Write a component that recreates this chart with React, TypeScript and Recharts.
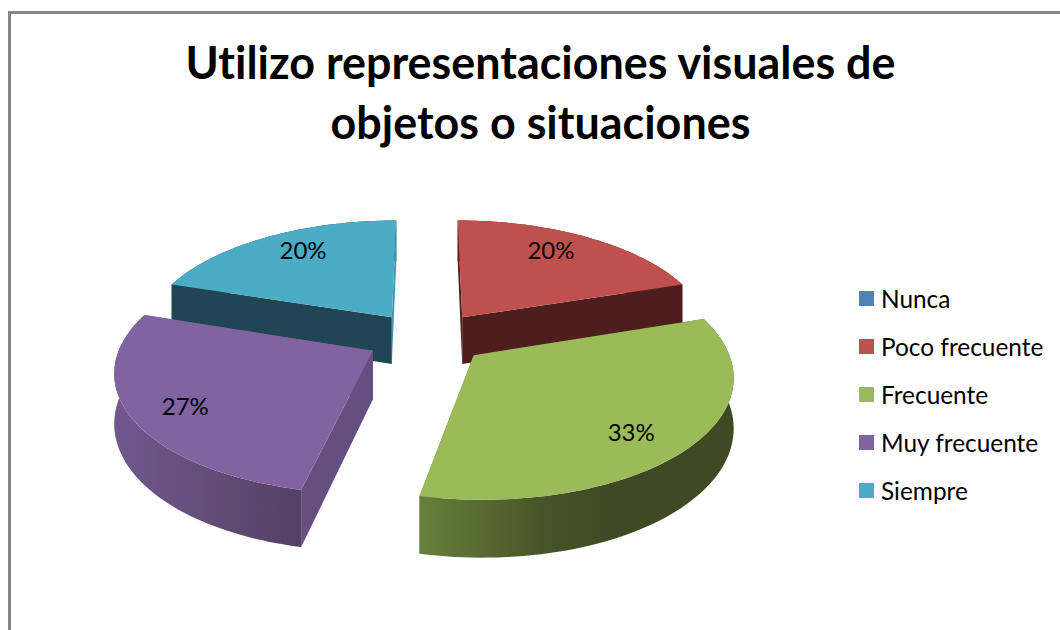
import React from "react";
import { PieChart, Pie, Legend } from "recharts";

const titleLines = ["Utilizo representaciones visuales de", "objetos o situaciones"];
const categories = ["Nunca", "Poco frecuente", "Frecuente", "Muy frecuente", "Siempre"];
const counts = [0, 3, 5, 4, 3];
const colors = ["#4F81BD", "#C0504D", "#9BBB59", "#8064A2", "#4BACC6"];
const startWalls = ["#000", "#4E1E1E", "#3F4A24", "#664F80", "#1F4652"];
const endWalls = ["#000", "#4E1E1E", "#66803C", "#664F80", "#3F97AD"];
const rimStops: [number, string][][] = [
  [[0, "#000"], [1, "#000"]],
  [[0, "#4E1E1E"], [1, "#4E1E1E"]],
  [[0, "#67803C"], [0.4, "#465427"], [0.6, "#3F4A24"], [1, "#3F4A24"]],
  [[0, "#70588F"], [0.5, "#634D78"], [1, "#524068"]],
  [[0, "#1F4652"], [1, "#1F4652"]],
];
const labelReach = [0, 0.94, 0.99, 1.03, 0.94];
const labelDrop = [0, -8, 8, 3, -8];

const rows = categories.map((name, i) => ({ name, value: counts[i], fill: colors[i] }));

const CX = 427;
const CY = 337.6;
const RX = 250;
const RY = 117;
const PERSPECTIVE = 0.15;
const EXPLODE_X = 0.246;
const EXPLODE_Y = 0.22;
const DEPTH = 48;
const FONT = "Lato, Carlito, sans-serif";

const rad = (d: number) => (d * Math.PI) / 180;

function project(cx: number, cy: number, rx: number, u: number, v: number) {
  const den = 1 + PERSPECTIVE * v;
  return { x: cx + (rx * u) / den, y: cy - ((rx * (RY / RX)) * v) / den, d: DEPTH / den };
}

const toPath = (pts: { x: number; y: number }[]) =>
  "M" + pts.map((p) => `${p.x.toFixed(1)},${p.y.toFixed(1)}`).join("L") + "Z";

function slice3D(props: any, part: "back" | "front") {
  const { cx, cy, outerRadius, startAngle, endAngle, name, value, fill } = props;
  if (!value) return <g />;
  const mid = (startAngle + endAngle) / 2;
  const isBack = Math.sin(rad(mid)) > 0;
  if ((part === "back") !== isBack) return <g />;
  const i = categories.indexOf(name);
  const ou = EXPLODE_X * Math.cos(rad(mid));
  const ov = EXPLODE_Y * Math.sin(rad(mid));
  const apex = project(cx, cy, outerRadius, ou, ov);
  const steps = 72;
  const arc = [];
  for (let s = 0; s <= steps; s++) {
    const a = rad(startAngle + ((endAngle - startAngle) * s) / steps);
    arc.push(project(cx, cy, outerRadius, ou + Math.cos(a), ov + Math.sin(a)));
  }
  const down = (p: { x: number; y: number; d: number }) => ({ x: p.x, y: p.y + p.d });
  const first = arc[0];
  const last = arc[arc.length - 1];
  const rimPts = [...arc, ...arc.map(down).reverse()];
  const xs = arc.map((p) => p.x);
  const gid = `rim-${i}`;
  const rim = <path d={toPath(rimPts)} fill={`url(#${gid})`} />;
  return (
    <g>
      <defs>
        <linearGradient id={gid} gradientUnits="userSpaceOnUse" x1={Math.min(...xs)} x2={Math.max(...xs)} y1={0} y2={0}>
          {rimStops[i].map(([o, c], k) => (
            <stop key={k} offset={o} stopColor={c} />
          ))}
        </linearGradient>
      </defs>
      {isBack ? rim : null}
      <path d={toPath([apex, first, down(first), down(apex)])} fill={startWalls[i]} />
      <path d={toPath([apex, last, down(last), down(apex)])} fill={endWalls[i]} />
      {isBack ? null : rim}
      <path d={toPath([apex, ...arc])} fill={fill} />
    </g>
  );
}

function percentLabel(props: any) {
  const { cx, cy, outerRadius, midAngle, percent, value, name } = props;
  if (!value) return null;
  const i = categories.indexOf(name);
  const g = labelReach[i];
  const p = project(cx, cy, outerRadius, g * Math.cos(rad(midAngle)), g * Math.sin(rad(midAngle)));
  return (
    <text x={p.x} y={p.y + labelDrop[i]} textAnchor="middle" dominantBaseline="central" fontFamily={FONT} fontSize={24} fill="#000">
      {`${Math.round(percent * 100)}%`}
    </text>
  );
}

function legendContent(props: any) {
  const seen = new Set<string>();
  const items = (props.payload || []).filter((e: any) => {
    if (seen.has(e.value)) return false;
    seen.add(e.value);
    return true;
  });
  return (
    <div>
      {items.map((e: any) => (
        <div key={e.value} style={{ display: "flex", alignItems: "center", height: 48 }}>
          <span style={{ width: 15, height: 15, background: e.color ?? e.payload?.fill, display: "inline-block", marginRight: 7 }} />
          <span style={{ fontFamily: FONT, fontSize: 24.4, color: "#000", whiteSpace: "nowrap" }}>{e.value}</span>
        </div>
      ))}
    </div>
  );
}

export default function App() {
  return (
    <div style={{ position: "fixed", left: 0, top: 0, width: 1060, height: 630, overflow: "hidden", background: "#fff" }}>
      <div style={{ position: "absolute", left: 8, top: 11, width: 1100, height: 700, borderLeft: "3px solid #868686", borderTop: "3px solid #868686" }} />
      <div style={{ position: "absolute", left: 0, top: 0, width: 1060 }}>
        <PieChart width={1060} height={630} margin={{ top: 0, right: 0, bottom: 0, left: 0 }}>
          <Pie data={rows} dataKey="value" nameKey="name" cx={CX} cy={CY} outerRadius={RX} startAngle={90} endAngle={-270} stroke="none" isAnimationActive={false} shape={(p: any) => slice3D(p, "back")} />
          <Pie data={rows} dataKey="value" nameKey="name" cx={CX} cy={CY} outerRadius={RX} startAngle={90} endAngle={-270} stroke="none" isAnimationActive={false} legendType="none" labelLine={false} label={percentLabel} shape={(p: any) => slice3D(p, "front")} />
          <Legend layout="vertical" align="center" verticalAlign="middle" itemSorter={null as any} content={legendContent} wrapperStyle={{ left: 859, top: 274, width: 200 }} />
        </PieChart>
      </div>
      <div style={{ position: "absolute", left: 0, top: 32, width: 1081, textAlign: "center", fontFamily: FONT, fontWeight: 700, fontSize: 44.9, lineHeight: "60px", color: "#000", fontVariantLigatures: "none" }}>
        {titleLines.map((t) => (
          <div key={t}>{t}</div>
        ))}
      </div>
    </div>
  );
}
